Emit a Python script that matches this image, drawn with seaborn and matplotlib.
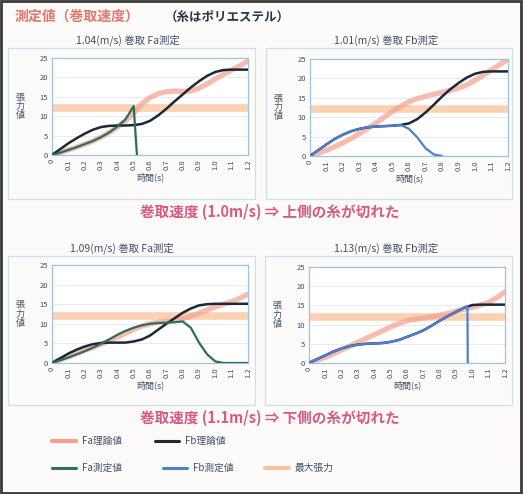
import matplotlib
matplotlib.use("Agg")
import matplotlib.pyplot as plt
from matplotlib.lines import Line2D
from matplotlib.patches import Rectangle
import seaborn as sns
import pandas as pd

sns.set_style("white")
plt.rcParams["font.family"] = ["Noto Sans CJK JP", "DejaVu Sans"]

# ---- data -------------------------------------------------------------
T = [0, 0.5, 1, 1.5, 2, 2.5, 3, 3.5, 4, 4.5, 5, 5.5, 6, 6.5, 7, 7.5, 8,
     8.5, 9, 9.5, 10, 10.5, 11, 11.5, 12]
x_tick_labels = ["0", "0.1", "0.2", "0.3", "0.4", "0.5", "0.6", "0.7",
                 "0.8", "0.9", "1.0", "1.1", "1.2"]

titles = ["1.04(m/s) 巻取 Fa測定", "1.01(m/s) 巻取 Fb測定",
          "1.09(m/s) 巻取 Fa測定", "1.13(m/s) 巻取 Fb測定"]

# Fa theoretical tension
fa_theory = [
    [0, 0.6, 1.3, 2.0, 2.8, 3.6, 4.6, 5.8, 7.2, 8.8, 10.8, 13.2, 14.8, 15.8,
     16.3, 16.5, 16.4, 16.5, 17.2, 18.3, 19.6, 20.8, 21.9, 23.0, 24.2],
    [0, 0.7, 1.5, 2.4, 3.4, 4.5, 5.8, 7.1, 8.5, 10.0, 11.5, 12.8, 14.0, 14.8,
     15.4, 15.9, 16.4, 16.9, 17.5, 18.3, 19.5, 20.8, 22.2, 23.6, 25.0],
    [0, 0.8, 1.6, 2.4, 3.2, 4.0, 4.8, 5.7, 6.6, 7.6, 8.6, 9.4, 10.0, 10.4,
     10.6, 10.9, 11.3, 11.9, 12.7, 13.5, 14.3, 15.0, 15.6, 16.5, 17.6],
    [0, 0.7, 1.5, 2.4, 3.4, 4.4, 5.4, 6.4, 7.4, 8.4, 9.4, 10.3, 11.0, 11.4,
     11.7, 12.0, 12.4, 12.9, 13.5, 14.0, 14.5, 15.1, 15.8, 17.0, 18.5],
]

# Fb theoretical tension
fb_theory = [
    [0, 1.5, 3.0, 4.3, 5.5, 6.5, 7.2, 7.5, 7.6, 7.6, 7.7, 8.0, 8.8, 10.2,
     11.9, 13.8, 15.6, 17.4, 19.0, 20.4, 21.4, 21.9, 22.0, 22.0, 22.0],
    [0, 1.5, 3.0, 4.4, 5.5, 6.4, 7.0, 7.4, 7.6, 7.7, 7.8, 8.0, 8.4, 9.5,
     11.2, 13.2, 15.3, 17.2, 18.8, 20.2, 21.2, 21.7, 21.8, 21.8, 21.8],
    [0, 1.2, 2.4, 3.4, 4.2, 4.8, 5.1, 5.2, 5.2, 5.2, 5.5, 6.0, 7.0, 8.5,
     10.0, 11.4, 12.8, 13.9, 14.7, 15.0, 15.1, 15.1, 15.1, 15.1, 15.1],
    [0, 1.0, 2.0, 3.0, 3.8, 4.4, 4.8, 5.0, 5.1, 5.2, 5.5, 6.0, 6.8, 7.6,
     8.5, 9.7, 11.0, 12.2, 13.3, 14.4, 15.1, 15.2, 15.2, 15.2, 15.2],
]

# measured tension (Fa in the left panels, Fb in the right panels)
meas_t = [
    [0, 0.5, 1, 1.5, 2, 2.5, 3, 3.5, 4, 4.5, 5.0, 5.2],
    [0, 0.5, 1, 1.5, 2, 2.5, 3, 3.5, 4, 4.5, 5, 5.5, 6, 6.5, 7, 7.5, 8],
    [0, 0.5, 1, 1.5, 2, 2.5, 3, 3.5, 4, 4.5, 5, 5.5, 6, 6.5, 7, 7.5, 8,
     8.5, 9, 9.5, 10, 10.5, 11, 11.5, 12],
    [0, 0.5, 1, 1.5, 2, 2.5, 3, 3.5, 4, 4.5, 5, 5.5, 6, 6.5, 7, 7.5, 8,
     8.5, 9, 9.5, 9.7, 9.72],
]
meas_v = [
    [0, 0.6, 1.3, 2.0, 2.8, 3.6, 4.6, 5.8, 7.3, 9.2, 12.6, 0],
    [0, 1.5, 3.0, 4.4, 5.5, 6.4, 7.0, 7.4, 7.6, 7.7, 7.8, 8.0, 7.0, 4.8,
     2.0, 0.4, 0],
    [0, 0.7, 1.4, 2.2, 3.0, 3.9, 4.9, 6.0, 7.2, 8.2, 9.0, 9.6, 10.0, 10.2,
     10.3, 10.4, 10.6, 9.0, 5.2, 2.2, 0.4, 0, 0, 0, 0],
    [0, 1.0, 2.0, 3.0, 3.8, 4.4, 4.8, 5.0, 5.1, 5.2, 5.5, 6.0, 6.8, 7.6,
     8.5, 9.7, 11.0, 12.2, 13.3, 14.4, 14.8, 0],
]
max_tension = [12.0, 12.0, 12.0, 12.0]

# ---- styling ----------------------------------------------------------
C_FA = "#f2a18e"
C_FB = "#1c2838"
C_FA_M = "#2f6d58"
C_FB_M = "#4f7fd3"
C_MAX = "#f9c39a"
C_SPINE = "#9fc3da"
C_TEXT = "#3f4f6a"

W, H = 523, 494
fig = plt.figure(figsize=(W / 100, H / 100), dpi=100, facecolor="#fdfbfa")


def frac(x0, y0, x1, y1):
    return [x0 / W, 1 - y1 / H, (x1 - x0) / W, (y1 - y0) / H]


axes_px = [(52, 58, 248, 155), (310, 59, 508, 156),
           (52, 265, 248, 363), (309, 267, 505, 363)]
boxes_px = [(8, 48, 255, 199), (266, 48, 512, 199),
            (8, 256, 255, 405), (265, 256, 512, 405)]
title_pos = [(128, 40), (386, 40), (122, 248), (386, 248)]
meas_color = [C_FA_M, C_FB_M, C_FA_M, C_FB_M]

for i in range(4):
    bx0, by0, bx1, by1 = boxes_px[i]
    fig.add_artist(Rectangle((bx0 / W, 1 - by1 / H), (bx1 - bx0) / W,
                             (by1 - by0) / H, transform=fig.transFigure,
                             fill=False, edgecolor="#cddfea", lw=0.9))
    fig.text(title_pos[i][0] / W, 1 - title_pos[i][1] / H, titles[i],
             ha="center", va="center", fontsize=7.5, color=C_TEXT)

    ax = fig.add_axes(frac(*axes_px[i]))
    ax.set_facecolor("white")
    for y in [5, 10, 15, 20]:
        ax.axhline(y, color="#e4e9ee", lw=0.6, zorder=0)
    ax.axhline(max_tension[i], color=C_MAX, lw=5.5, alpha=0.75, zorder=1)

    df_a = pd.DataFrame({"t": T, "v": fa_theory[i]})
    df_b = pd.DataFrame({"t": T, "v": fb_theory[i]})
    df_m = pd.DataFrame({"t": meas_t[i], "v": meas_v[i]})
    sns.lineplot(data=df_a, x="t", y="v", ax=ax, color=C_FA, lw=3.8,
                 alpha=0.7, zorder=2)
    sns.lineplot(data=df_b, x="t", y="v", ax=ax, color=C_FB, lw=1.8,
                 zorder=3)
    sns.lineplot(data=df_m, x="t", y="v", ax=ax, color=meas_color[i],
                 lw=1.6, zorder=4)

    ax.set_xlim(0, 12)
    ax.set_ylim(0, 25)
    ax.set_yticks([0, 5, 10, 15, 20, 25])
    ax.set_xticks(range(13))
    ax.set_xticklabels(x_tick_labels, rotation=90)
    ax.tick_params(axis="both", labelsize=5.5, colors=C_TEXT, length=0,
                   pad=3)
    for s in ax.spines.values():
        s.set_color(C_SPINE)
        s.set_linewidth(0.9)
    ax.set_xlabel("時間(s)", fontsize=6.5, color=C_TEXT, labelpad=2)
    ax.set_ylabel("張\n力\n値", fontsize=6.5, color=C_TEXT, rotation=0,
                  va="center", labelpad=14, linespacing=1.0)

# ---- headings -----------------------------------------------------------
fig.text(15 / W, 1 - 17 / H, "測定値（巻取速度）", fontsize=10,
         fontweight="bold", color="#e2766c", va="center", ha="left")
fig.text(165 / W, 1 - 17 / H, "（糸はポリエステル）", fontsize=9,
         fontweight="bold", color="#2a3348", va="center", ha="left")
fig.text(270 / W, 1 - 212 / H, "巻取速度 (1.0m/s) ⇒ 上側の糸が切れた",
         fontsize=10.5, fontweight="bold", color="#d65a84", va="center",
         ha="center")
fig.text(270 / W, 1 - 418 / H, "巻取速度 (1.1m/s) ⇒ 下側の糸が切れた",
         fontsize=10.5, fontweight="bold", color="#d65a84", va="center",
         ha="center")

# ---- legend -------------------------------------------------------------
legend_items = [
    (52, 441, C_FA, 3.0, "Fa理論値"),
    (155, 441, C_FB, 2.2, "Fb理論値"),
    (52, 468, C_FA_M, 2.2, "Fa測定値"),
    (163, 468, C_FB_M, 2.2, "Fb測定値"),
    (265, 468, C_MAX, 3.0, "最大張力"),
]
for x0, y0, col, lw, label in legend_items:
    fig.add_artist(Line2D([x0 / W, (x0 + 24) / W], [1 - y0 / H, 1 - y0 / H],
                          transform=fig.transFigure, color=col, lw=lw))
    fig.text((x0 + 30) / W, 1 - y0 / H, label, fontsize=7, color=C_TEXT,
             va="center", ha="left")

# ---- outer frame --------------------------------------------------------
fig.add_artist(Rectangle((0.002, 0.003), 0.995, 0.994,
                         transform=fig.transFigure, fill=False,
                         edgecolor="#3a3a3a", lw=2.0))

fig.savefig("out.png", dpi=100, facecolor=fig.get_facecolor())
